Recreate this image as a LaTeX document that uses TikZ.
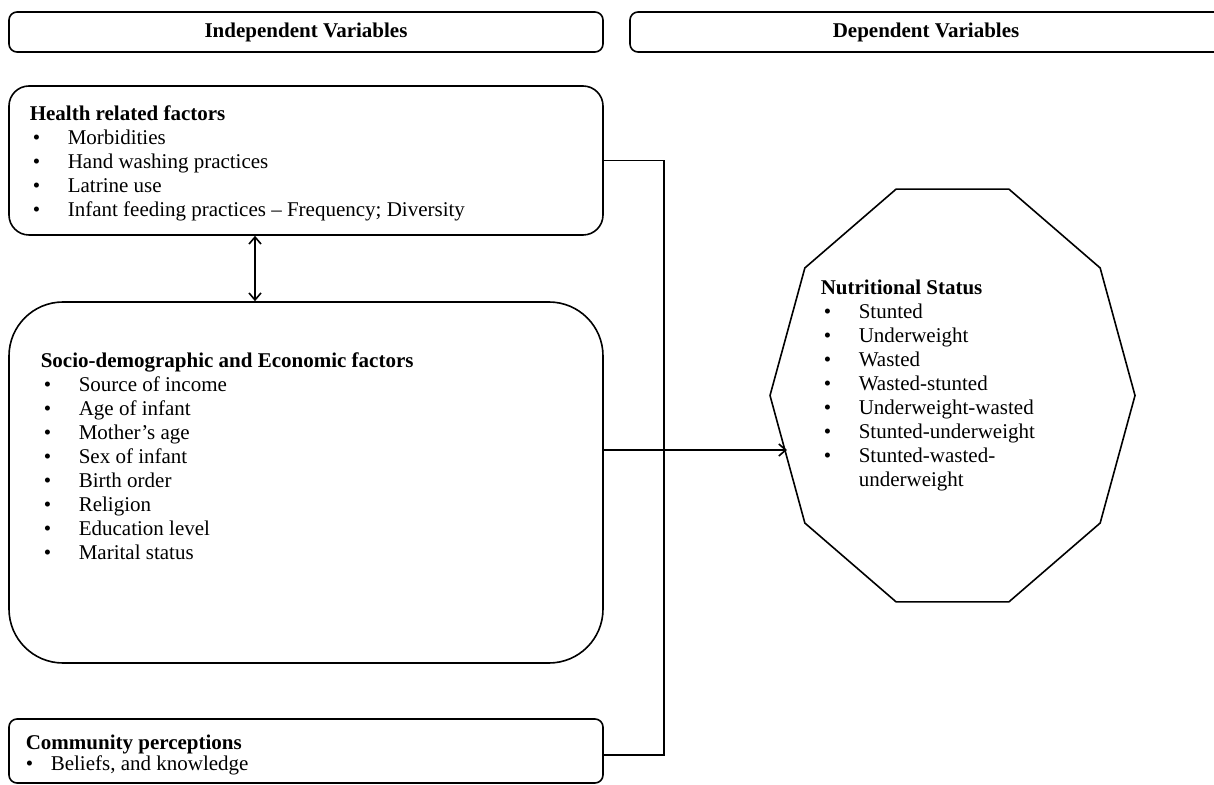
\documentclass[tikz,border=0pt]{standalone}
\usepackage{fontspec}
\setmainfont{Liberation Serif}
\usetikzlibrary{calc,arrows.meta}
\newcommand{\bul}{\hspace*{1.5pt}\makebox[17.5pt][l]{\textbullet}}

\begin{document}
\begin{tikzpicture}[x=0.5pt,y=-0.5pt,line width=0.8pt,>={Straight Barb[length=3.5pt,width=6pt]},
  every node/.style={font=\fontsize{10.5}{12}\selectfont},
  hdr/.style={draw,rounded corners=4pt,minimum width=297pt,minimum height=20pt,font=\fontsize{10.5}{12}\selectfont\bfseries},
  frame/.style={draw,minimum width=297pt},
  lst/.style={anchor=north west,inner sep=0pt,align=left}]
  \useasboundingbox (0,0) rectangle (1214,785);
  \path (306,32) node[hdr] (indep) {Independent Variables}
  (926,32) node[hdr,minimum width=296pt] (dep) {Dependent Variables};
  \path (306,160.5) node[frame,rounded corners=10pt,minimum height=74.5pt] (health) {}
  (306,482.5) node[frame,rounded corners=27pt,minimum height=180.5pt] (socio) {}
  (306,751) node[frame,rounded corners=4pt,minimum height=32pt] (comm) {};
  \draw[shift={(952.5,395.5)}] (0:182.5 and 217) \foreach \a in {36,72,...,324}{ -- (\a:182.5 and 217)} -- cycle;
  \node[lst] (healthtxt) at (29,105) {\textbf{Health related factors}\\
    \bul Morbidities\\ \bul Hand washing practices\\ \bul Latrine use\\
    \bul Infant feeding practices -- Frequency; Diversity};
  \node[lst] (sociotxt) at (40,352) {\textbf{Socio-demographic and Economic factors}\\
    \bul Source of income\\ \bul Age of infant\\ \bul Mother's age\\ \bul Sex of infant\\
    \bul Birth order\\ \bul Religion\\ \bul Education level\\ \bul Marital status};
  \node[lst,font=\fontsize{10.5}{10.5}\selectfont] (commtxt) at (25,734) {\textbf{Community perceptions}\\
    \makebox[12.5pt][l]{\textbullet}Beliefs, and knowledge};
  \node[lst] (nutri) at (820,279) {\textbf{Nutritional Status}\\
    \bul Stunted\\ \bul Underweight\\ \bul Wasted\\ \bul Wasted-stunted\\
    \bul Underweight-wasted\\ \bul Stunted-underweight\\ \bul Stunted-wasted-\\
    \hspace*{19pt}underweight};
  \coordinate (bus) at (664,0);
  \coordinate (mid) at (255,0);
  \coordinate (tip) at (787,450);
  \coordinate (commin) at ([yshift=-2pt]comm.east);
  \draw (health.east) -| (bus |- commin) -- (commin);
  \draw[->] (socio.east |- tip) -- (tip);
  \draw[<->] (health.south -| mid) -- (socio.north -| mid);
\end{tikzpicture}
\end{document}
